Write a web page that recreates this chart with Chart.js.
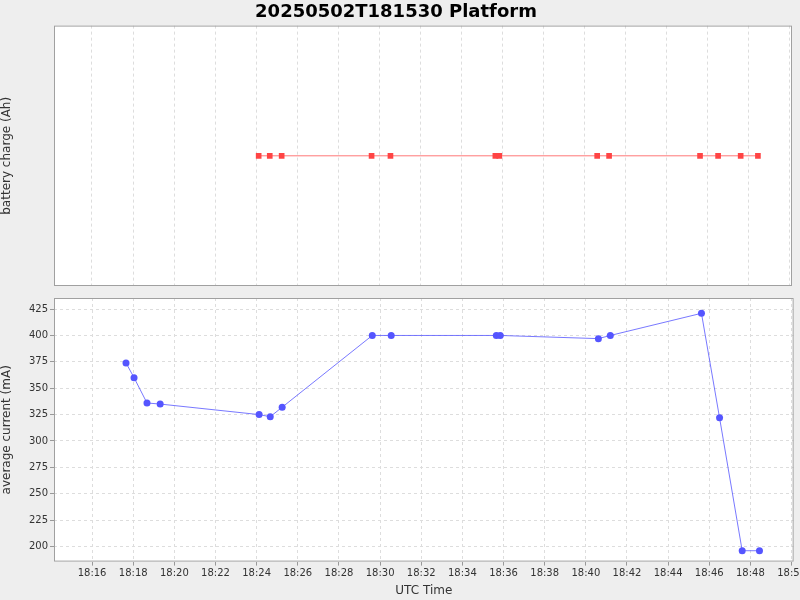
<!DOCTYPE html>
<html><head><script src="https://cdn.jsdelivr.net/npm/chart.js@4"></script>
<style>body{margin:0;background:#eeeeee;width:800px;height:600px;overflow:hidden}canvas{display:block}</style></head>
<body><div style="position:absolute;left:0;top:0;width:800px;height:290px"><canvas id="c1"></canvas></div>
<div style="position:absolute;left:0;top:290px;width:808px;height:310px"><canvas id="c2"></canvas></div>
<script>
// times in minutes after 18:00
const currentTimes=[17.65,18.04,18.67,19.31,24.12,24.66,25.24,29.62,30.54,35.65,35.84,40.61,41.19,45.62,46.5,47.6,48.44];
const currentValues=[374,360,336,335,325,323,332,400,400,400,400,397,400,421,322,196,196];
const chargeTimes=[24.12,24.66,25.24,29.62,30.54,35.65,35.84,40.61,41.19,45.62,46.5,47.6,48.44];
const chargeValues=[1,1,1,1,1,1,1,1,1,1,1,1,1];
const xTicks=[16,18,20,22,24,26,28,30,32,34,36,38,40,42,44,46,48,50];
const yTicks=[200,225,250,275,300,325,350,375,400,425];
const fmt=m=>'18:'+String(m).padStart(2,'0');
const bg={id:'bg',beforeDraw(c){const a=c.chartArea,x=c.ctx;x.save();x.fillStyle='#fff';x.fillRect(a.left,a.top,a.right-a.left,a.bottom-a.top);x.restore();},
afterDraw(c){const a=c.chartArea,x=c.ctx;x.save();x.strokeStyle='#a0a0a0';x.lineWidth=1;x.strokeRect(a.left+0.5,a.top+0.5,a.right-a.left-1,a.bottom-a.top-1);x.restore();}};
const grid={color:'#dddddd',drawTicks:true,tickLength:4,tickColor:'#999'};
const border={display:false,dash:[3,3]};
const font={family:'DejaVu Sans',size:10};
const xScale=(showTicks)=>({type:'linear',min:14.15,max:50.1,
 afterBuildTicks:s=>{s.ticks=xTicks.map(v=>({value:v}));},
 ticks:{display:showTicks,callback:v=>fmt(v),font,color:'#333',maxRotation:0,autoSkip:false,padding:2},
 grid:Object.assign({},grid,{drawTicks:showTicks}),border,
 title:{display:showTicks,text:'UTC Time',font:{family:'DejaVu Sans',size:12},color:'#333',padding:{top:2,bottom:0}}});
Chart.defaults.animation=false;
new Chart(document.getElementById('c1'),{type:'scatter',
 data:{datasets:[{data:chargeTimes.map((t,i)=>({x:t,y:chargeValues[i]})),showLine:true,borderColor:'#ff5555',borderWidth:0.8,backgroundColor:'#ff4444',pointStyle:'rect',pointRadius:4,pointBorderWidth:0}]},
 options:{responsive:true,maintainAspectRatio:false,layout:{padding:{right:8,top:0,bottom:1}},
  plugins:{legend:{display:false},tooltip:{enabled:false},title:{display:true,text:'20250502T181530 Platform',font:{family:'DejaVu Sans',size:18,weight:'bold'},color:'#000',padding:{top:2,bottom:2}}},
  scales:{x:xScale(false),y:{min:0,max:2,ticks:{display:false},grid:{display:false},border:{display:false},
   afterFit:s=>{s.width=54;},title:{display:true,text:'battery charge (Ah)',font:{family:'DejaVu Sans',size:12},color:'#333',padding:{top:0,bottom:14}}}}},
 plugins:[bg]});
new Chart(document.getElementById('c2'),{type:'scatter',
 data:{datasets:[{data:currentTimes.map((t,i)=>({x:t,y:currentValues[i]})),showLine:true,borderColor:'#5555ff',borderWidth:0.8,backgroundColor:'#5555ff',pointRadius:3.5,pointBorderWidth:0}]},
 options:{responsive:true,maintainAspectRatio:false,layout:{padding:{right:8,top:8,bottom:2}},
  plugins:{legend:{display:false},tooltip:{enabled:false}},
  scales:{x:xScale(true),y:{min:185.7,max:435.5,afterBuildTicks:s=>{s.ticks=yTicks.map(v=>({value:v}));},
   ticks:{font,color:'#333',padding:2},grid,border,afterFit:s=>{s.width=54;},
   title:{display:true,text:'average current (mA)',font:{family:'DejaVu Sans',size:12},color:'#333',padding:{top:0,bottom:2}}}}},
 plugins:[bg]});
</script></body></html>
